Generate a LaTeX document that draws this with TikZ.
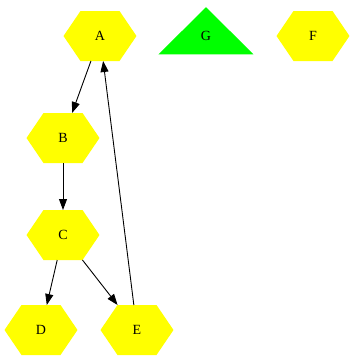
\documentclass[tikz,border=0pt]{standalone}
\usepackage{fontspec}
\setmainfont{Liberation Serif}
\usepackage{xcolor}
\usepackage{tikz}
\usetikzlibrary{shapes.geometric, arrows.meta, positioning}
\definecolor{hexyellow}{RGB}{255,255,0}
\definecolor{trigreen}{RGB}{0,255,0}
\tikzset{
  hex/.style={rectangle, draw=none,
    minimum width=73pt, minimum height=50pt, inner sep=0pt, outer sep=0pt,
    font=\fontsize{14}{16}\selectfont,
    path picture={
      \fill[hexyellow] (path picture bounding box.west)
        -- ([xshift=17pt]path picture bounding box.north west)
        -- ([xshift=-17pt]path picture bounding box.north east)
        -- (path picture bounding box.east)
        -- ([xshift=-17pt]path picture bounding box.south east)
        -- ([xshift=17pt]path picture bounding box.south west) -- cycle;
    }},
  tri/.style={isosceles triangle, shape border rotate=90, fill=trigreen, draw=none,
    isosceles triangle apex angle=90, isosceles triangle stretches,
    minimum width=95pt, minimum height=47pt, inner sep=0pt, outer sep=0pt,
    font=\fontsize{14}{16}\selectfont},
  arrow/.style={-{Triangle[length=11pt, width=8pt]}, black, line width=0.9pt}
}
\begin{document}
\begin{tikzpicture}[x=1pt, y=-1pt]
  \useasboundingbox (0,0) rectangle (355,360);
  \node[hex] (A) at (100,36) {A};
  \node[tri] (G) at (206,36) {G};
  \node[hex] (F) at (313,36) {F};
  \node[hex] (B) at (63,138) {B};
  \node[hex] (C) at (63,235) {C};
  \node[hex] (D) at (41,330) {D};
  \node[hex] (E) at (137,330) {E};
  \draw[arrow] (A) -- (B);
  \draw[arrow] (B) -- (C);
  \draw[arrow] (C) -- (D);
  \draw[arrow] (C) -- (E);
  \draw[arrow] (E) -- (A);
\end{tikzpicture}
\end{document}
